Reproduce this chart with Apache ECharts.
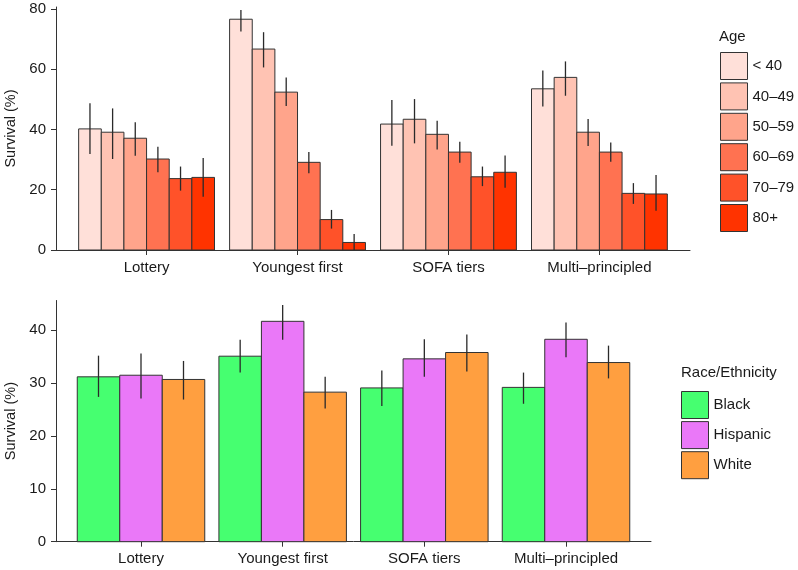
<!DOCTYPE html>
<html>
<head>
<meta charset="utf-8">
<script src="https://cdn.jsdelivr.net/npm/echarts@6/dist/echarts.min.js"></script>
<style>
html,body{margin:0;padding:0;background:#fff;}
#chart{width:798px;height:570px;}
</style>
</head>
<body>
<div id="chart"></div>
<script>
// ---------- data ----------
const categories = ['Lottery', 'Youngest first', 'SOFA tiers', 'Multi\u2013principled'];

// Top panel: survival by age group
const ageGroups = ['< 40', '40\u201349', '50\u201359', '60\u201369', '70\u201379', '80+'];
const ageLt40    = [40.2, 76.6, 41.8, 53.5];
const ageLt40Lo  = [31.9, 72.5, 34.6, 47.6];
const ageLt40Hi  = [48.7, 79.7, 49.8, 59.6];
const age40      = [39.1, 66.7, 43.4, 57.3];
const age40Lo    = [30.2, 60.6, 35.4, 51.2];
const age40Hi    = [47.0, 72.3, 50.1, 62.6];
const age50      = [37.1, 52.4, 38.4, 39.1];
const age50Lo    = [31.3, 47.8, 33.4, 34.5];
const age50Hi    = [42.4, 57.3, 42.9, 43.5];
const age60      = [30.2, 29.1, 32.5, 32.5];
const age60Lo    = [25.8, 25.5, 29.0, 29.3];
const age60Hi    = [34.3, 32.5, 35.9, 35.7];
const age70      = [23.7, 10.1, 24.3, 18.8];
const age70Lo    = [19.7, 7.1, 21.2, 15.3];
const age70Hi    = [27.7, 13.3, 27.7, 22.2];
const age80      = [24.1, 2.5, 25.8, 18.6];
const age80Lo    = [17.7, 0.0, 20.7, 13.0];
const age80Hi    = [30.5, 5.3, 31.4, 24.9];
const topTicks   = [0, 20, 40, 60, 80];

// Bottom panel: survival by race/ethnicity
const raceGroups = ['Black', 'Hispanic', 'White'];
const raceBlack    = [31.2, 35.1, 29.1, 29.2];
const raceBlackLo  = [27.4, 32.0, 25.7, 26.1];
const raceBlackHi  = [35.2, 38.2, 32.4, 32.0];
const raceHisp     = [31.5, 41.7, 34.6, 38.3];
const raceHispLo   = [27.1, 38.2, 31.2, 34.9];
const raceHispHi   = [35.6, 44.8, 38.3, 41.5];
const raceWhite    = [30.7, 28.3, 35.8, 33.9];
const raceWhiteLo  = [26.9, 25.2, 32.2, 30.9];
const raceWhiteHi  = [34.2, 31.2, 39.2, 37.1];
const bottomTicks  = [0, 10, 20, 30, 40];

// ---------- styling ----------
const ageColors  = ['#FFE0D9', '#FFC3B3', '#FFA48B', '#FF7251', '#FF5229', '#FF3300'];
const raceColors = ['#46FF70', '#EA78F8', '#FF9F40'];
const FONT = 'Liberation Sans, Arial, Helvetica, sans-serif';
const TXT = '#1a1a1a';
const AX = '#333333';

const topSets = [
  [ageLt40, ageLt40Lo, ageLt40Hi],
  [age40, age40Lo, age40Hi],
  [age50, age50Lo, age50Hi],
  [age60, age60Lo, age60Hi],
  [age70, age70Lo, age70Hi],
  [age80, age80Lo, age80Hi]
];
const bottomSets = [
  [raceBlack, raceBlackLo, raceBlackHi],
  [raceHisp, raceHispLo, raceHispHi],
  [raceWhite, raceWhiteLo, raceWhiteHi]
];

function makeSeries(names, sets, colors, axisIdx) {
  const n = names.length;
  const w = 0.9 / n;
  return names.map((name, i) => {
    const [v, lo, hi] = sets[i];
    return {
      type: 'custom',
      name: name,
      xAxisIndex: axisIdx,
      yAxisIndex: axisIdx,
      itemStyle: { color: colors[i], borderColor: AX, borderWidth: 1 },
      encode: { x: 0, y: 1 },
      data: v.map((val, k) => [k + 1 - 0.45 + (i + 0.5) * w, val, lo[k], hi[k]]),
      renderItem: function (params, api) {
        const x = api.value(0);
        const a = api.coord([x - w / 2, api.value(1)]);
        const b = api.coord([x + w / 2, 0]);
        const e1 = api.coord([x, api.value(2)]);
        const e2 = api.coord([x, api.value(3)]);
        return {
          type: 'group',
          children: [
            {
              type: 'rect',
              shape: { x: a[0], y: a[1], width: b[0] - a[0], height: b[1] - a[1] },
              style: { fill: colors[i], stroke: '#333333', lineWidth: 1 }
            },
            {
              type: 'line',
              shape: { x1: e1[0], y1: e1[1], x2: e2[0], y2: e2[1] },
              style: { stroke: '#2a2a2a', lineWidth: 1.3 }
            }
          ]
        };
      }
    };
  });
}

function xAxisCfg(gridIndex) {
  return {
    type: 'value', gridIndex: gridIndex, min: 0.4, max: 4.6,
    splitLine: { show: false },
    axisLine: { show: true, onZero: false, lineStyle: { color: AX, width: 1 } },
    axisTick: { show: true, length: 5, customValues: [1, 2, 3, 4], lineStyle: { color: AX } },
    axisLabel: {
      customValues: [1, 2, 3, 4], margin: 10,
      formatter: v => categories[Math.round(v) - 1] || '',
      color: TXT, fontSize: 15, fontFamily: FONT
    }
  };
}
function yAxisCfg(gridIndex, max, ticks) {
  return {
    type: 'value', gridIndex: gridIndex, min: 0, max: max,
    name: 'Survival (%)', nameLocation: 'middle', nameGap: 38,
    nameTextStyle: { color: TXT, fontSize: 14.5, fontFamily: FONT },
    splitLine: { show: false },
    axisLine: { show: true, lineStyle: { color: AX, width: 1 } },
    axisTick: { show: true, length: 5, customValues: ticks, lineStyle: { color: AX } },
    axisLabel: { customValues: ticks, margin: 10, color: TXT, fontSize: 15, fontFamily: FONT }
  };
}

const chart = echarts.init(document.getElementById('chart'), null, { renderer: 'canvas' });
chart.setOption({
  animation: false,
  backgroundColor: '#ffffff',
  grid: [
    { left: 56, width: 634, top: 7, height: 243, containLabel: false, outerBoundsMode: 'none' },
    { left: 56, width: 595, top: 300.5, height: 241.2, containLabel: false, outerBoundsMode: 'none' }
  ],
  title: [
    { text: 'Age', left: 719, top: 29, padding: 0,
      textStyle: { color: TXT, fontSize: 15, fontWeight: 'normal', fontFamily: FONT } },
    { text: 'Race/Ethnicity', left: 681, top: 365, padding: 0,
      textStyle: { color: TXT, fontSize: 15, fontWeight: 'normal', fontFamily: FONT } }
  ],
  legend: [
    { data: ageGroups, orient: 'vertical', left: 720, top: 52, padding: 0,
      itemWidth: 27, itemHeight: 27, itemGap: 2.4, icon: 'rect',
      itemStyle: { borderColor: AX, borderWidth: 1 },
      textStyle: { color: TXT, fontSize: 15, fontFamily: FONT } },
    { data: raceGroups, orient: 'vertical', left: 681, top: 391, padding: 0,
      itemWidth: 27, itemHeight: 27, itemGap: 2.1, icon: 'rect',
      itemStyle: { borderColor: AX, borderWidth: 1 },
      textStyle: { color: TXT, fontSize: 15, fontFamily: FONT } }
  ],
  xAxis: [xAxisCfg(0), xAxisCfg(1)],
  yAxis: [yAxisCfg(0, 80.66, topTicks), yAxisCfg(1, 45.64, bottomTicks)],
  series: [].concat(
    makeSeries(ageGroups, topSets, ageColors, 0),
    makeSeries(raceGroups, bottomSets, raceColors, 1)
  )
});
</script>
</body>
</html>
